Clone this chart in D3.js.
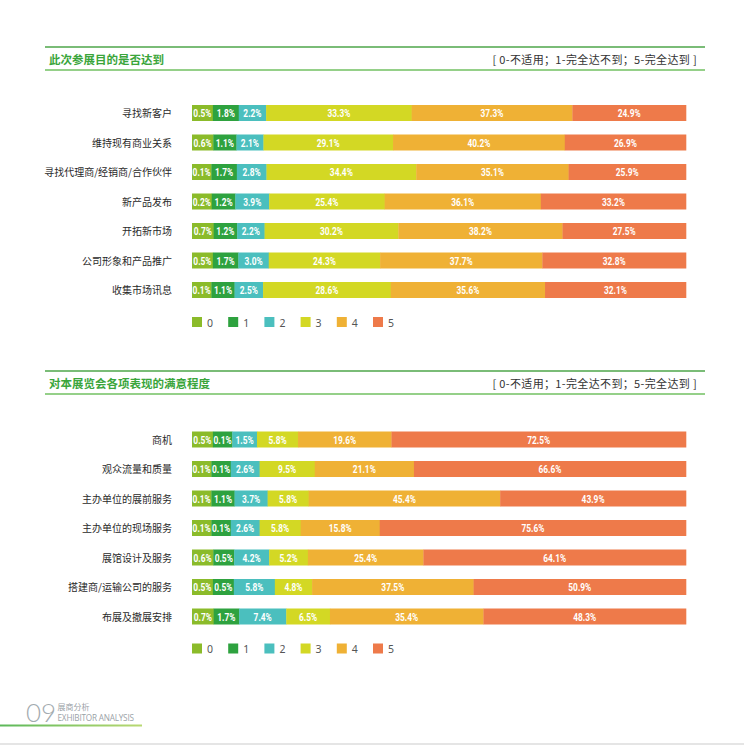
<!DOCTYPE html>
<html>
<head>
<meta charset="utf-8">
<script src="https://cdn.jsdelivr.net/npm/d3@7"></script>
<style>
  body { margin: 0; background: #fff; }
  svg { display: block; }
  .cat { font-family: "Noto Sans CJK SC", sans-serif; font-size: 10px; fill: #2a2a2a; }
  .val { font-family: Roboto, "DejaVu Sans", sans-serif; font-size: 11px; font-weight: bold; fill: #fff; }
  .title { font-family: "Noto Sans CJK SC", sans-serif; font-size: 11.5px; font-weight: bold; fill: #3aa53b; }
  .note { font-family: "Noto Sans CJK SC", sans-serif; font-size: 11px; fill: #333; letter-spacing: 0.35px; }
  .leg { font-family: "Noto Sans", sans-serif; font-size: 10.5px; fill: #555; }
</style>
</head>
<body>
<script>
// levels 0..5
const levels = ["0", "1", "2", "3", "4", "5"];
const colors = ["#8bbb2a", "#2ea23f", "#4bbfbe", "#d3d824", "#efb135", "#ee7a4a"];
const scaleNote = "[ 0-不适用；1-完全达不到；5-完全达到 ]";

// chart 1
const goalTitle = "此次参展目的是否达到";
const goalCats = ["寻找新客户", "维持现有商业关系", "寻找代理商/经销商/合作伙伴", "新产品发布", "开拓新市场", "公司形象和产品推广", "收集市场讯息"];
const goalVals = [
  [0.5, 1.8, 2.2, 33.3, 37.3, 24.9],
  [0.6, 1.1, 2.1, 29.1, 40.2, 26.9],
  [0.1, 1.7, 2.8, 34.4, 35.1, 25.9],
  [0.2, 1.2, 3.9, 25.4, 36.1, 33.2],
  [0.7, 1.2, 2.2, 30.2, 38.2, 27.5],
  [0.5, 1.7, 3.0, 24.3, 37.7, 32.8],
  [0.1, 1.1, 2.5, 28.6, 35.6, 32.1]
];

// chart 2
const satTitle = "对本展览会各项表现的满意程度";
const satCats = ["商机", "观众流量和质量", "主办单位的展前服务", "主办单位的现场服务", "展馆设计及服务", "搭建商/运输公司的服务", "布展及撤展安排"];
const satVals = [
  [0.5, 0.1, 1.5, 5.8, 19.6, 72.5],
  [0.1, 0.1, 2.6, 9.5, 21.1, 66.6],
  [0.1, 1.1, 3.7, 5.8, 45.4, 43.9],
  [0.1, 0.1, 2.6, 5.8, 15.8, 75.6],
  [0.6, 0.5, 4.2, 5.2, 25.4, 64.1],
  [0.5, 0.5, 5.8, 4.8, 37.5, 50.9],
  [0.7, 1.7, 7.4, 6.5, 35.4, 48.3]
];

const W = 744, H = 746;
const barLeft = 192, barRight = 686;
const pad = 19;        // extra width each segment gets so small labels fit
const step = 29.5, barH = 16;

const svg = d3.select("body").append("svg")
    .attr("width", W)
    .attr("height", H);

function header(yTop, title) {
  const g = svg.append("g");
  g.append("line")
      .attr("x1", 45).attr("x2", 705)
      .attr("y1", yTop).attr("y2", yTop)
      .attr("stroke", "#4ea64a").attr("stroke-width", 1.3);
  g.append("line")
      .attr("x1", 45).attr("x2", 705)
      .attr("y1", yTop + 23).attr("y2", yTop + 23)
      .attr("stroke", "#72c062").attr("stroke-width", 1.6);
  g.append("text")
      .attr("class", "title")
      .attr("x", 49).attr("y", yTop + 12)
      .attr("dominant-baseline", "central")
      .text(title);
  g.append("text")
      .attr("class", "note")
      .attr("x", 697).attr("y", yTop + 12)
      .attr("text-anchor", "end")
      .attr("dominant-baseline", "central")
      .text(scaleNote);
}

function chart(firstTop, cats, vals) {
  const p = 1 - barH / step;
  const y = d3.scaleBand()
      .domain(cats)
      .range([firstTop - step * p / 2, firstTop - step * p / 2 + cats.length * step])
      .paddingInner(p)
      .paddingOuter(p / 2);

  const g = svg.append("g");

  // category labels
  g.selectAll(".cat")
    .data(cats)
    .enter().append("text")
      .attr("class", "cat")
      .attr("x", 172)
      .attr("y", d => y(d) + y.bandwidth() / 2 - 0.5)
      .attr("text-anchor", "end")
      .attr("dominant-baseline", "central")
      .text(d => d);

  cats.forEach((c, r) => {
    const row = vals[r];
    const total = d3.sum(row);
    const x = d3.scaleLinear()
        .domain([0, total])
        .range([barLeft, barRight - pad * row.length]);
    let cum = 0;
    const segs = row.map((v, i) => {
      const s = {v: v, i: i, x0: x(cum) + i * pad};
      cum += v;
      s.x1 = x(cum) + (i + 1) * pad;
      return s;
    });

    const rg = g.append("g");
    rg.selectAll("rect")
      .data(segs)
      .enter().append("rect")
        .attr("x", d => d.x0)
        .attr("y", y(c))
        .attr("width", d => d.x1 - d.x0 + 0.3)
        .attr("height", y.bandwidth())
        .attr("fill", d => colors[d.i]);

    // condensed look: squeeze the label horizontally
    rg.selectAll("text")
      .data(segs)
      .enter().append("text")
        .attr("class", "val")
        .attr("transform", d => `translate(${(d.x0 + d.x1) / 2},${y(c) + y.bandwidth() / 2 + 0.5}) scale(0.76,1)`)
        .attr("text-anchor", "middle")
        .attr("dominant-baseline", "central")
        .text(d => d.v.toFixed(1) + "%");
  });

  // legend
  const legTop = firstTop + (cats.length - 1) * step + 35;
  const lx = d3.scalePoint().domain(levels).range([192, 373]);
  const lg = g.selectAll(".legitem")
    .data(levels)
    .enter().append("g")
      .attr("transform", d => `translate(${lx(d)},${legTop})`);
  lg.append("rect")
      .attr("width", 10).attr("height", 10)
      .attr("fill", (d, i) => colors[i]);
  lg.append("text")
      .attr("class", "leg")
      .attr("x", 15).attr("y", 5.5)
      .attr("dominant-baseline", "central")
      .text(d => d);
}

header(47, goalTitle);
chart(105, goalCats, goalVals);

header(371, satTitle);
chart(431.5, satCats, satVals);

// footer
const grad = svg.append("defs").append("linearGradient")
    .attr("id", "fgrad");
grad.append("stop").attr("offset", "0%").attr("stop-color", "#5cb85a");
grad.append("stop").attr("offset", "100%").attr("stop-color", "#b9d872");
svg.append("rect")
    .attr("x", 0).attr("y", 724.5)
    .attr("width", 142).attr("height", 2)
    .attr("fill", "url(#fgrad)");
svg.append("line")
    .attr("x1", 0).attr("x2", W)
    .attr("y1", 744).attr("y2", 744)
    .attr("stroke", "#dcdcdc").attr("stroke-width", 1.5);
svg.append("text")
    .attr("x", 26).attr("y", 722)
    .attr("font-family", "Lato, 'Open Sans', sans-serif")
    .attr("font-weight", 300)
    .attr("font-size", 26)
    .attr("fill", "#a3abb0")
    .text("09");
svg.append("text")
    .attr("x", 57.5).attr("y", 710)
    .attr("font-family", "'Noto Sans CJK SC', sans-serif")
    .attr("font-size", 8)
    .attr("fill", "#9aa2a7")
    .text("展商分析");
svg.append("text")
    .attr("x", 57.5).attr("y", 721)
    .attr("font-family", "'Open Sans', sans-serif")
    .attr("font-size", 8.2)
    .attr("letter-spacing", -0.2)
    .attr("fill", "#9aa2a7")
    .text("EXHIBITOR ANALYSIS");
</script>
</body>
</html>
